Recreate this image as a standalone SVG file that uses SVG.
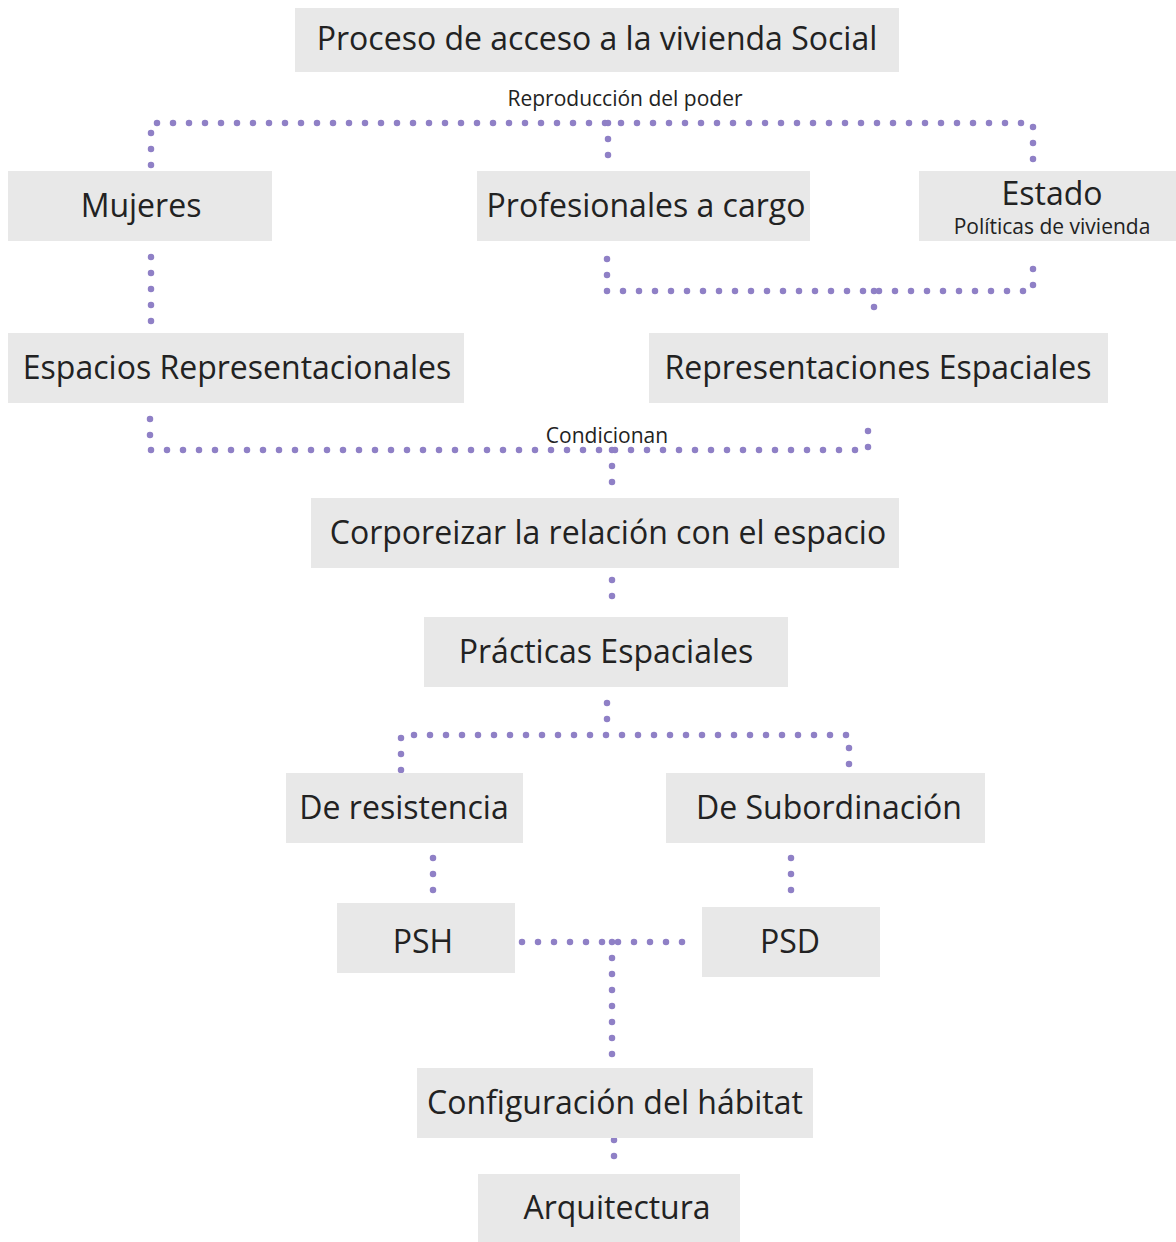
<svg xmlns="http://www.w3.org/2000/svg" width="1176" height="1242" viewBox="0 0 1176 1242">
<style>
.box{fill:#e8e8e8}
.t{font-family:"Open Sans","Noto Sans","DejaVu Sans",sans-serif;font-size:32px;fill:#222;text-anchor:middle}
.s{font-family:"Open Sans","Noto Sans","DejaVu Sans",sans-serif;font-size:21px;fill:#222;text-anchor:middle}
.c{fill:none;stroke:#8f80c6;stroke-width:6.5;stroke-linecap:round;stroke-dasharray:0 16}
</style>
<rect width="1176" height="1242" fill="#fff"/>
<g id="connectors">
<path class="c" d="M151 165V123H1033V165"/>
<path class="c" d="M608 123V165"/>
<path class="c" d="M151 257V323"/>
<path class="c" d="M607 259V291H1033V259"/>
<path class="c" d="M874 291V323"/>
<path class="c" d="M150 419V450H868V419"/>
<path class="c" d="M612 450V486"/>
<path class="c" d="M612 580V612"/>
<path class="c" d="M607 703V735"/>
<path class="c" d="M401 770V735H849V770"/>
<path class="c" d="M433 858V892"/>
<path class="c" d="M791 858V892"/>
<path class="c" d="M522 942H683"/>
<path class="c" d="M612 942V1064"/>
<path class="c" d="M614 1140V1172"/>
<text class="s" x="625" y="106">Reproducción del poder</text>
<text class="s" x="607" y="443">Condicionan</text>
</g>
<g id="n-titulo"><rect class="box" x="295" y="8" width="604" height="64"/><text class="t" x="597" y="50">Proceso de acceso a la vivienda Social</text></g>
<g id="n-mujeres"><rect class="box" x="8" y="171" width="264" height="70"/><text class="t" x="141" y="217">Mujeres</text></g>
<g id="n-profesionales"><rect class="box" x="477" y="171" width="333" height="70"/><text class="t" x="646" y="217">Profesionales a cargo</text></g>
<g id="n-estado"><rect class="box" x="919" y="171" width="257" height="70"/><text class="t" x="1052" y="205">Estado</text><text class="s" x="1052" y="234">Políticas de vivienda</text></g>
<g id="n-espacios"><rect class="box" x="8" y="333" width="456" height="70"/><text class="t" x="237" y="379">Espacios Representacionales</text></g>
<g id="n-representaciones"><rect class="box" x="649" y="333" width="459" height="70"/><text class="t" x="878" y="379">Representaciones Espaciales</text></g>
<g id="n-corporeizar"><rect class="box" x="311" y="498" width="588" height="70"/><text class="t" x="608" y="544">Corporeizar la relación con el espacio</text></g>
<g id="n-practicas"><rect class="box" x="424" y="617" width="364" height="70"/><text class="t" x="606" y="663">Prácticas Espaciales</text></g>
<g id="n-resistencia"><rect class="box" x="286" y="773" width="237" height="70"/><text class="t" x="404" y="819">De resistencia</text></g>
<g id="n-subordinacion"><rect class="box" x="666" y="773" width="319" height="70"/><text class="t" x="829" y="819">De Subordinación</text></g>
<g id="n-psh"><rect class="box" x="337" y="903" width="178" height="70"/><text class="t" x="423" y="953">PSH</text></g>
<g id="n-psd"><rect class="box" x="702" y="907" width="178" height="70"/><text class="t" x="790" y="953">PSD</text></g>
<g id="n-configuracion"><rect class="box" x="417" y="1068" width="396" height="70"/><text class="t" x="615" y="1114">Configuración del hábitat</text></g>
<g id="n-arquitectura"><rect class="box" x="478" y="1174" width="262" height="68"/><text class="t" x="617" y="1219">Arquitectura</text></g>
</svg>
